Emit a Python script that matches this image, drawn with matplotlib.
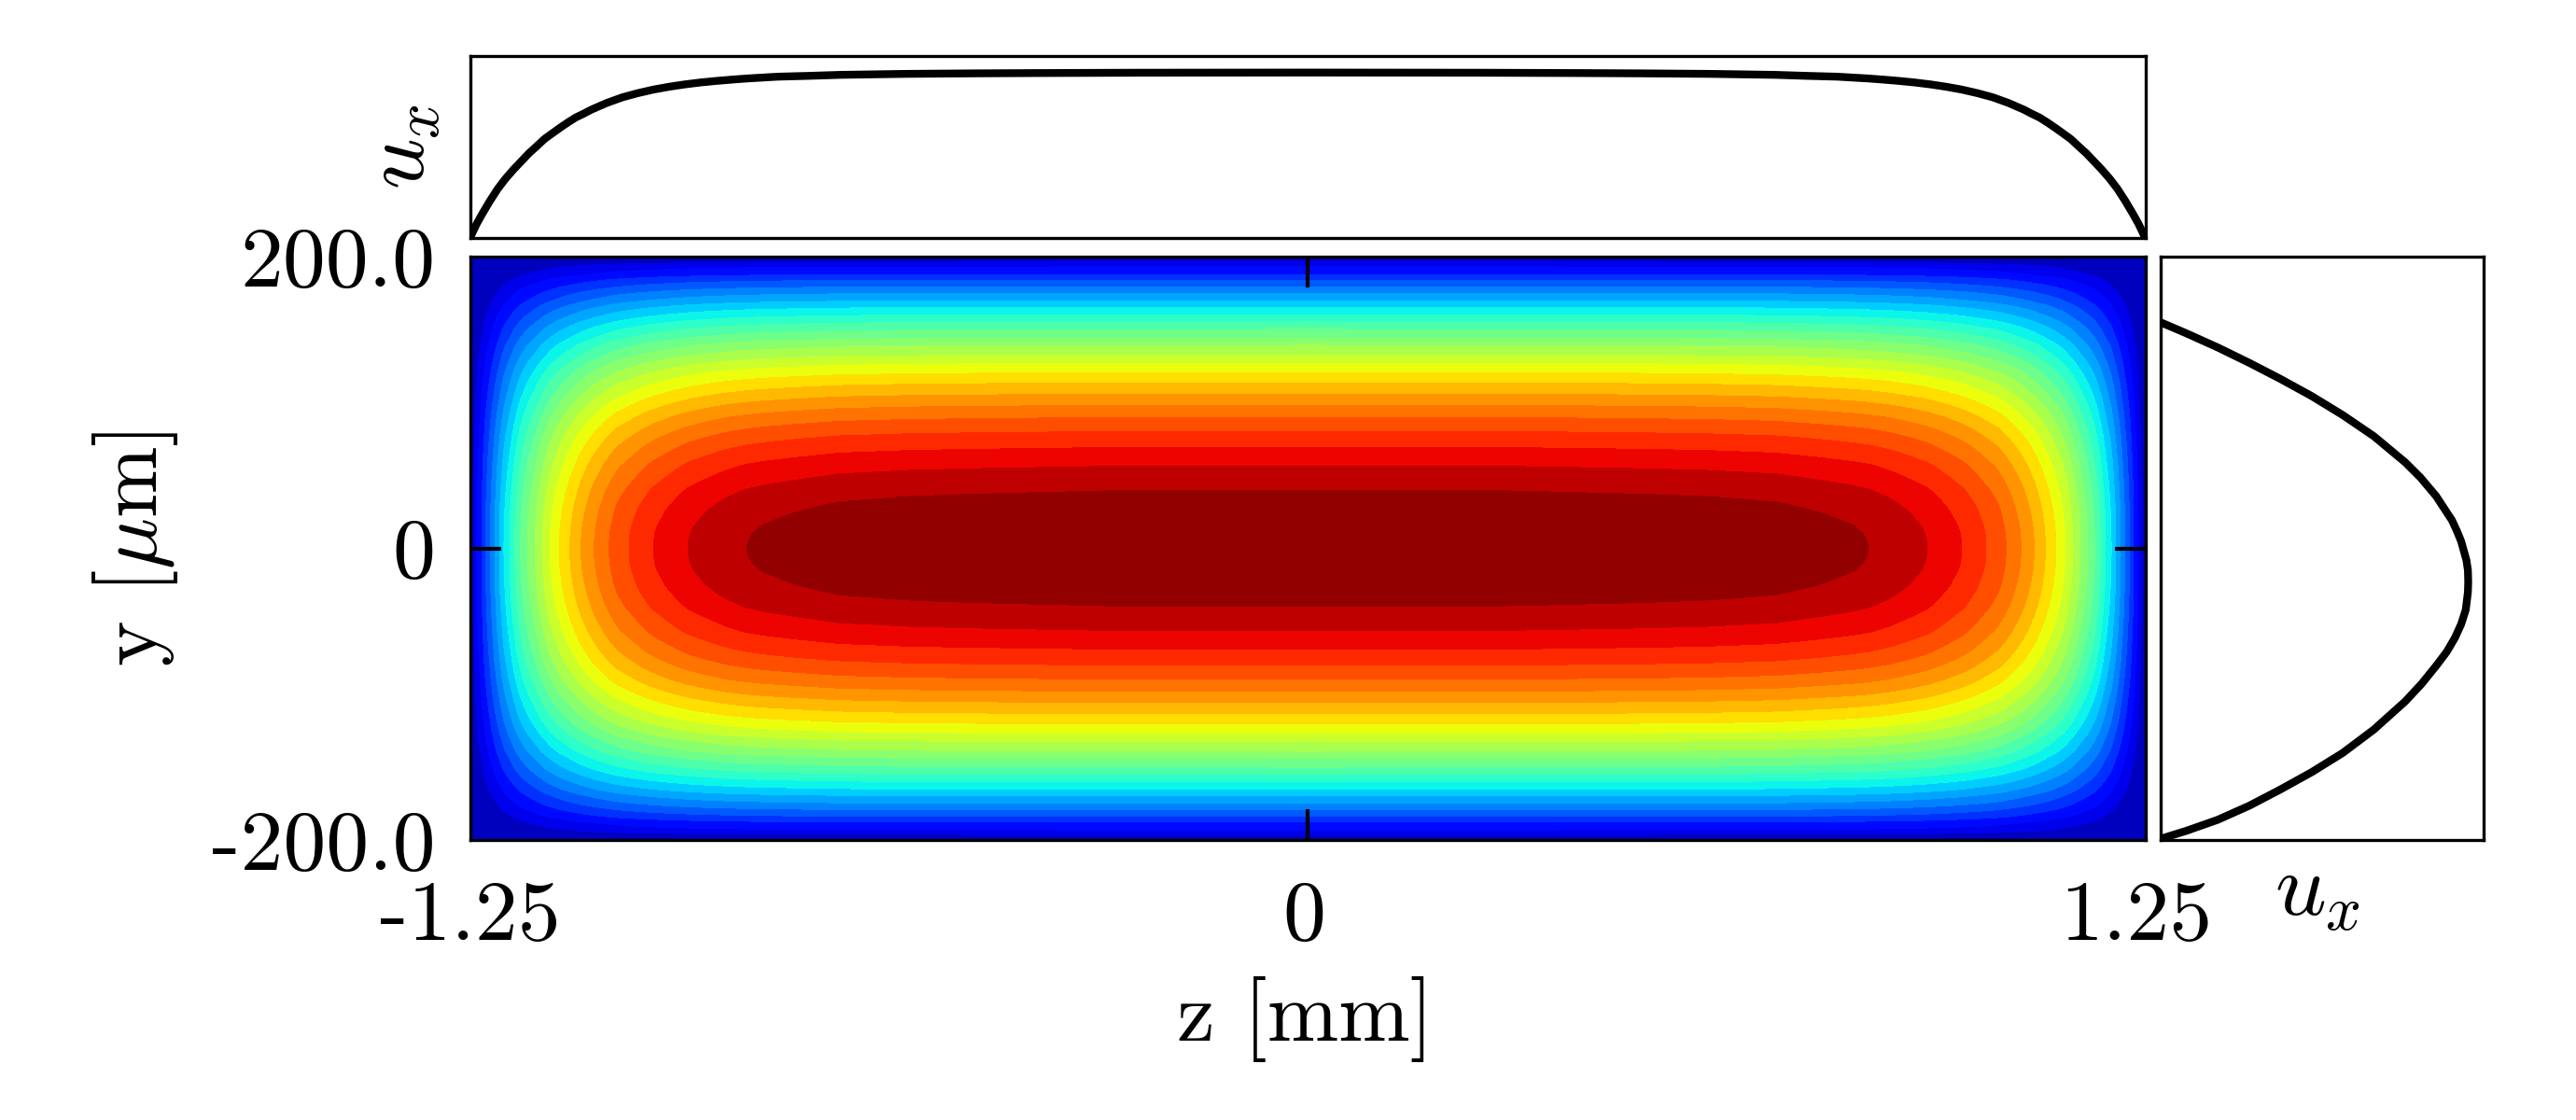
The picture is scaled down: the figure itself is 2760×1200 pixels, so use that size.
import matplotlib
matplotlib.use('Agg')
import matplotlib.pyplot as plt
import numpy as np
from matplotlib.transforms import ScaledTranslation

plt.rcParams['font.family'] = ['cmr10', 'DejaVu Sans']
plt.rcParams['mathtext.fontset'] = 'cm'
plt.rcParams['axes.unicode_minus'] = False
plt.rcParams['axes.formatter.use_mathtext'] = True

# band boundaries (half channel, then mirrored)
n_bands = 26
band_y = [0.0, 5.0, 10.0, 15.0, 20.0, 25.0, 30.0, 35.0, 40.0, 48.0, 56.6, 63.0, 69.4, 75.0, 80.3,
          89.9, 98.2, 105.9, 113.6, 120.6, 127.0, 132.8, 139.2, 144.3, 150.1, 155.2, 160.3, 165.4,
          169.9, 175.0, 179.5, 184.0, 187.8, 193.0, 196.2, 198.0, 200.0]
band_gy = [1.0, 0.9995, 0.998, 0.995, 0.99, 0.985, 0.978, 0.97, 0.9615, 0.943, 0.9231, 0.904,
           0.8846, 0.866, 0.8462, 0.8077, 0.7692, 0.7308, 0.6923, 0.6538, 0.6154, 0.5769, 0.5385,
           0.5, 0.4615, 0.4231, 0.3846, 0.3462, 0.3077, 0.2692, 0.2308, 0.1923, 0.1538, 0.1154,
           0.0769, 0.058, 0.04]
band_z = [-1.25, -1.2472, -1.2444, -1.2396, -1.2326, -1.2266, -1.2196, -1.2131, -1.2061, -1.1992,
          -1.1908, -1.1829, -1.1745, -1.1643, -1.1528, -1.1421, -1.1305, -1.1166, -1.1007, -1.084,
          -1.0645, -1.0422, -1.03, -1.0125, -0.995, -0.9763, -0.95, -0.9248, -0.90, -0.87, -0.837,
          -0.81, -0.77, -0.70, -0.60, -0.50, -0.30, 0.0]
band_fz = [0.04, 0.058, 0.0769, 0.1154, 0.1538, 0.1923, 0.2308, 0.2692, 0.3077, 0.3462, 0.3846,
           0.4231, 0.4615, 0.5, 0.5385, 0.5769, 0.6154, 0.6538, 0.6923, 0.7308, 0.7692, 0.8077,
           0.827, 0.8462, 0.866, 0.8846, 0.905, 0.9231, 0.936, 0.95, 0.9615, 0.968, 0.975, 0.986,
           0.992, 0.995, 0.999, 1.0]
corner_floor = 0.04

# top panel curve (left half, then mirrored)
top_z = [-1.25, -1.24, -1.2316, -1.22, -1.2085, -1.197, -1.1852, -1.162, -1.15, -1.1389, -1.127,
         -1.1156, -1.104, -1.0923, -1.08, -1.0692, -1.046, -1.0227, -1.0, -0.9763, -0.953, -0.93,
         -0.906, -0.8834, -0.86, -0.837, -0.7907, -0.7444, -0.698, -0.6, -0.5, -0.4, -0.25, 0.0]
top_u = [0.0, 0.085, 0.146, 0.225, 0.297, 0.358, 0.413, 0.512, 0.556, 0.598, 0.633, 0.666, 0.698,
         0.728, 0.752, 0.775, 0.816, 0.85, 0.875, 0.897, 0.914, 0.928, 0.94, 0.949, 0.957, 0.964,
         0.975, 0.98, 0.986, 0.992, 0.995, 0.997, 0.999, 1.0]

# right panel curve
side_y = [154.6, 147.3, 137.7, 127.2, 116.2, 104.4, 91.4, 76.9, 59.0, 48.5, 35.7, 27.0, 19.3, 12.0,
          4.8, -8.0, -15.0, -22.9, -30.0, -42.1, -52.0, -61.3, -71.0, -80.5, -93.0, -105.0, -124.3,
          -140.3, -153.5, -165.4, -176.5, -186.1, -193.6, -198.9]
side_u = [0.004, 0.085, 0.186, 0.288, 0.389, 0.491, 0.592, 0.693, 0.795, 0.845, 0.896, 0.923, 0.947,
          0.963, 0.977, 0.994, 0.999, 1.0, 0.999, 0.992, 0.977, 0.957, 0.93, 0.896, 0.848, 0.795,
          0.693, 0.592, 0.491, 0.389, 0.288, 0.186, 0.085, 0.004]

x_ticks = [-1.25, 0, 1.25]
x_ticklabels = ['-1.25', '0', '1.25']
y_ticks = [-200, 0, 200]
y_ticklabels = ['-200.0', '0', '200.0']

W, H = 2760, 1200
def box(x0, y0, x1, y1):
    return [x0 / W, 1 - y1 / H, (x1 - x0) / W, (y1 - y0) / H]

fig = plt.figure(figsize=(9.2, 4), dpi=300)
ax = fig.add_axes(box(503.5, 275, 2298.5, 900))
ax_top = fig.add_axes(box(503.5, 60, 2298.5, 255))
ax_side = fig.add_axes(box(2315, 275, 2661, 900))

# field from the two read profiles
half_z = np.array(band_z)
half_fz = np.array(band_fz)
half_y = np.array(band_y)
half_gy = np.array(band_gy)
z = np.concatenate([half_z, -half_z[-2::-1]])
fz = np.concatenate([half_fz, half_fz[-2::-1]])
y = np.concatenate([-half_y[:0:-1], half_y])
gy = np.concatenate([half_gy[:0:-1], half_gy])
u = np.maximum(np.outer(gy, fz), corner_floor)

levels = np.linspace(0, 1, n_bands + 1)
ax.contourf(z, y, u, levels=levels, cmap='jet')
ax.set_xlim(-1.25, 1.25)
ax.set_ylim(-200, 200)
ax.set_xticks(x_ticks)
ax.set_xticklabels(x_ticklabels)
ax.set_yticks(y_ticks)
ax.set_yticklabels(y_ticklabels)
ax.tick_params(direction='in', top=True, right=True, length=8, width=1, labelsize=22)
ax.tick_params(axis='x', pad=10.5)
ax.tick_params(axis='y', pad=9)
ax.set_xlabel('z [mm]', fontsize=22, labelpad=5)
ax.xaxis.label.set_x(0.5 - 3 / 1795)
ax.set_ylabel(r'y [$\mu$m]', fontsize=22, labelpad=8)

# tick marks on the corners only thicken the frame, keep the middle ones
for axis in [ax.xaxis, ax.yaxis]:
    ticks = axis.get_major_ticks()
    for t in [ticks[0], ticks[2]]:
        t.tick1line.set_visible(False)
        t.tick2line.set_visible(False)

# the tick labels sit a little left of their ticks in the reference
labs = ax.get_xticklabels()
labs[1].set_transform(labs[1].get_transform() + ScaledTranslation(-4 / 300, 0, fig.dpi_scale_trans))
labs[2].set_transform(labs[2].get_transform() + ScaledTranslation(-10 / 300, 0, fig.dpi_scale_trans))

tz = np.array(top_z)
tu = np.array(top_u)
ax_top.plot(np.concatenate([tz, -tz[-2::-1]]), np.concatenate([tu, tu[-2::-1]]), 'k-', lw=2)
ax_top.set_xlim(-1.25, 1.25)
ax_top.set_ylim(0, 1.1)
ax_top.set_xticks([])
ax_top.set_yticks([])
ax_top.set_ylabel(r'$u_x$', fontsize=23, labelpad=7)

ax_side.plot(side_u, side_y, 'k-', lw=2)
ax_side.set_xlim(0, 1.05)
ax_side.set_ylim(-200, 200)
ax_side.set_xticks([])
ax_side.set_yticks([])
ax_side.set_xlabel(r'$u_x$', fontsize=23, labelpad=3.5)
ax_side.xaxis.label.set_x(0.5 - 5 / 346)

fig.savefig('out.png', dpi=300)
